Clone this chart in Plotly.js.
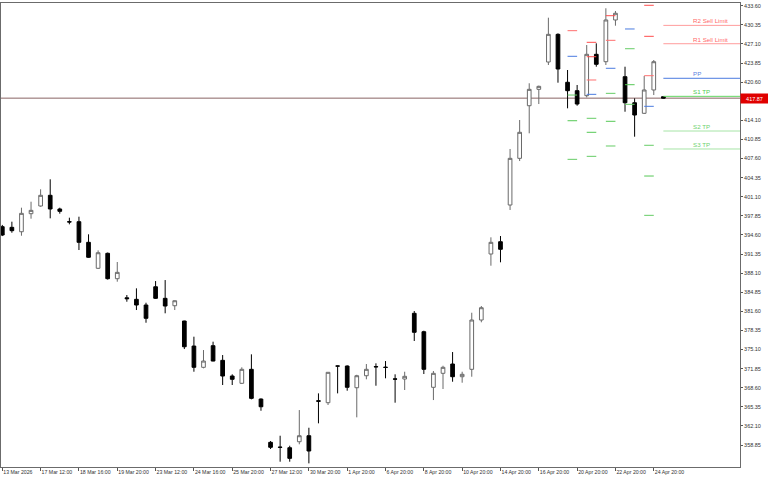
<!DOCTYPE html>
<html><head><meta charset="utf-8">
<script src="https://cdn.plot.ly/plotly-3.0.1.min.js"></script>
<style>html,body{margin:0;padding:0;background:#fff;} #chart{width:768px;height:480px;}</style>
</head><body><div id="chart"></div>
<script>
// ---- data (H4 bars, 13 Mar 2026 .. 27 Apr 2026) ----
const opens = [396.00,395.89,395.14,398.21,399.52,401.34,399.01,396.85,396.85,393.34,
  388.92,391.47,387.15,383.90,383.64,382.67,385.78,383.81,382.55,379.95,
  375.69,372.07,375.75,373.26,370.59,369.35,371.73,366.67,359.31,358.50,
  358.39,359.41,360.43,366.38,366.05,372.30,372.29,368.60,370.64,372.20,
  372.10,370.10,370.08,381.26,378.13,368.67,371.05,372.63,370.47,371.73,
  380.12,391.35,393.44,399.69,407.63,416.58,419.37,424.02,428.73,420.57,
  419.14,418.29,425.33,424.07,431.17,421.52,417.09,415.29,419.26,418.11];
const highs = [396.30,396.85,399.23,400.25,402.36,404.06,399.23,397.53,397.70,394.70,
  391.97,391.60,389.99,384.37,385.51,383.06,386.75,386.92,383.45,380.00,
  377.28,375.01,376.43,374.16,370.88,372.07,374.28,366.79,359.53,360.43,
  358.73,364.80,361.79,367.64,371.22,372.35,372.40,370.80,372.63,372.75,
  373.14,370.88,371.32,381.65,378.30,371.44,372.34,374.67,371.32,381.36,
  382.50,394.19,394.41,409.22,414.15,420.40,420.00,431.56,428.90,422.66,
  420.11,426.91,427.20,433.16,432.70,423.22,417.84,421.64,424.36,418.20];
const lows = [394.40,394.97,394.46,397.36,399.40,397.42,398.21,396.40,392.03,390.70,
  388.80,387.00,386.64,383.23,381.82,379.66,383.70,381.26,381.82,375.18,
  371.32,371.90,373.10,369.06,369.06,369.23,366.62,364.68,358.17,356.01,
  356.01,358.97,355.73,362.54,365.66,367.64,368.09,363.56,370.03,368.94,
  370.20,366.05,368.21,376.55,370.93,366.50,368.38,369.62,369.45,370.47,
  379.73,389.36,389.94,398.84,407.17,411.89,416.87,423.51,420.50,416.14,
  416.58,418.00,423.22,423.51,430.20,415.56,411.31,415.20,418.40,417.80];
const closes = [394.58,395.32,398.27,398.78,401.34,399.01,398.61,396.80,393.34,390.79,
  391.57,387.15,388.23,383.75,382.67,380.41,383.81,382.50,383.40,375.57,
  372.07,373.14,373.14,370.59,370.03,371.73,366.79,365.36,358.46,358.45,
  356.58,360.43,357.83,366.30,371.22,372.28,368.67,370.64,371.73,372.15,
  372.05,370.06,370.54,378.03,371.73,371.05,372.07,370.47,370.88,380.12,
  382.21,393.34,392.15,407.63,412.06,419.37,419.88,428.73,422.83,419.14,
  416.87,425.33,423.63,431.17,432.31,417.09,415.00,419.26,424.07,417.87];

const xTickLabels = ["13 Mar 2026","17 Mar 12:00","18 Mar 16:00","19 Mar 20:00","23 Mar 12:00",
  "24 Mar 16:00","25 Mar 20:00","27 Mar 12:00","30 Mar 20:00","1 Apr 20:00","6 Apr 20:00",
  "8 Apr 20:00","10 Apr 20:00","14 Apr 20:00","16 Apr 20:00","20 Apr 20:00","22 Apr 20:00","24 Apr 20:00"];
const barsPerLabel = 4;

// price-scale labels visible in the reference (417.35 is hidden behind the price tag)
const yTickValues = [358.85,362.10,365.35,368.60,371.85,375.10,378.35,381.60,384.85,388.10,
  391.35,394.60,397.85,401.10,404.35,407.60,410.85,414.10,420.60,423.85,427.10,430.35,433.60];

// daily pivot levels (20 Apr .. 24 Apr), first/last bar of each day
const pivotDayFirstBar = [59,61,63,65,67];
const pivotDayLastBar  = [60,62,64,66,68];
const pivotR3 = [null,427.37,null,null,433.67];
const pivotR2 = [null,424.92,431.90,null,428.39];
const pivotR1 = [429.35,420.96,427.71,null,421.69];
const pivotPP = [424.99,418.52,422.95,429.64,416.48];
const pivotS1 = [418.40,414.44,418.69,426.28,409.85];
const pivotS2 = [414.03,412.06,413.93,420.16,404.62];
const pivotS3 = [407.46,407.97,409.73,416.82,397.93];

// current day levels
const levelNames  = ["R2 Sell Limit","R1 Sell Limit","PP","S1 TP","S2 TP","S3 TP"];
const levelValues = [430.25,427.13,421.25,418.18,412.28,409.22];
const lastPrice = 417.87;

// ---- styling ----
const FONT = 'Liberation Sans, Arial, sans-serif';
const levelLineColors = ["#ff9c9c","#ff9c9c","#4a7be0","#62d662","#a6e4a6","#a6e4a6"];
const levelTextColors = ["#ff6a6a","#ff6a6a","#5b7fe0","#52cc52","#6fd26f","#6fd26f"];
const N = opens.length;
const xs = opens.map((_, i) => i);

const traces = [{
  type: 'candlestick', x: xs, open: opens, high: highs, low: lows, close: closes,
  increasing: {line: {color: '#6a6a6a', width: 1}, fillcolor: '#ffffff'},
  decreasing: {line: {color: '#000000', width: 1}, fillcolor: '#000000'},
  whiskerwidth: 0, hoverinfo: 'skip', showlegend: false
}];

function dashTrace(levels, color) {
  const x = [], y = [];
  levels.forEach((v, d) => {
    if (v === null) return;
    x.push(pivotDayFirstBar[d], pivotDayLastBar[d], null);
    y.push(v, v, null);
  });
  return {type: 'scatter', mode: 'lines', x, y, line: {color, width: 1},
          hoverinfo: 'skip', showlegend: false, connectgaps: false};
}
traces.push(dashTrace(pivotR3, '#ff4d4d'));
traces.push(dashTrace(pivotR2, '#ff4d4d'));
traces.push(dashTrace(pivotR1, '#ff6f6f'));
traces.push(dashTrace(pivotPP, '#4a7be0'));
traces.push(dashTrace(pivotS1, '#66cc66'));
traces.push(dashTrace(pivotS2, '#55c855'));
traces.push(dashTrace(pivotS3, '#66cc66'));

const xMin = -0.136, xMax = 77.0;
const shapes = [];
const annotations = [];
levelValues.forEach((v, k) => {
  shapes.push({type: 'line', xref: 'x', yref: 'y', x0: N - 1, x1: xMax, y0: v, y1: v,
               line: {color: levelLineColors[k], width: 1}});
  annotations.push({xref: 'x', yref: 'y', x: 72.0, y: v, xanchor: 'left', yanchor: 'bottom',
                    text: levelNames[k], showarrow: false, borderpad: 0, yshift: 0,
                    font: {family: FONT, size: 6.2, color: levelTextColors[k]}});
});
shapes.push({type: 'line', xref: 'paper', yref: 'y', x0: 0, x1: 1, y0: lastPrice, y1: lastPrice,
             line: {color: '#8a6464', width: 1}, layer: 'below'});
annotations.push({xref: 'paper', yref: 'y', x: 1, y: lastPrice, xanchor: 'left', yanchor: 'middle',
                  text: lastPrice.toFixed(2), showarrow: false, bgcolor: '#e00000', borderpad: 1,
                  width: 25, height: 7, align: 'center',
                  font: {family: FONT, size: 5.5, color: '#ffffff'}});

const tickVals = xTickLabels.map((_, i) => i * barsPerLabel);

const layout = {
  width: 768, height: 480,
  margin: {l: 1, r: 28, t: 3, b: 13, pad: 0},
  paper_bgcolor: '#ffffff', plot_bgcolor: '#ffffff',
  showlegend: false, hovermode: false,
  boxgap: 0.45,
  font: {family: FONT, size: 5.5, color: '#333'},
  xaxis: {
    range: [xMin, xMax], rangeslider: {visible: false}, type: 'linear',
    tickmode: 'array', tickvals: tickVals, ticktext: xTickLabels, tickangle: 0,
    ticks: 'outside', ticklen: 3, tickcolor: '#555', tickwidth: 1,
    ticklabelposition: 'outside right',
    tickfont: {size: 5.2, color: '#333', family: FONT},
    showgrid: false, zeroline: false, showline: true, linecolor: '#6b6b6b', linewidth: 1, mirror: true
  },
  yaxis: {
    side: 'right', range: [355.11, 434.06], tickmode: 'array', tickvals: yTickValues, tickformat: '.2f',
    ticks: 'outside', ticklen: 2, tickcolor: '#555', tickwidth: 1,
    tickfont: {size: 5.5, color: '#333', family: FONT},
    showgrid: false, zeroline: false, showline: true, linecolor: '#6b6b6b', linewidth: 1, mirror: true
  },
  shapes, annotations
};

Plotly.newPlot('chart', traces, layout, {staticPlot: true, displayModeBar: false});
</script></body></html>
